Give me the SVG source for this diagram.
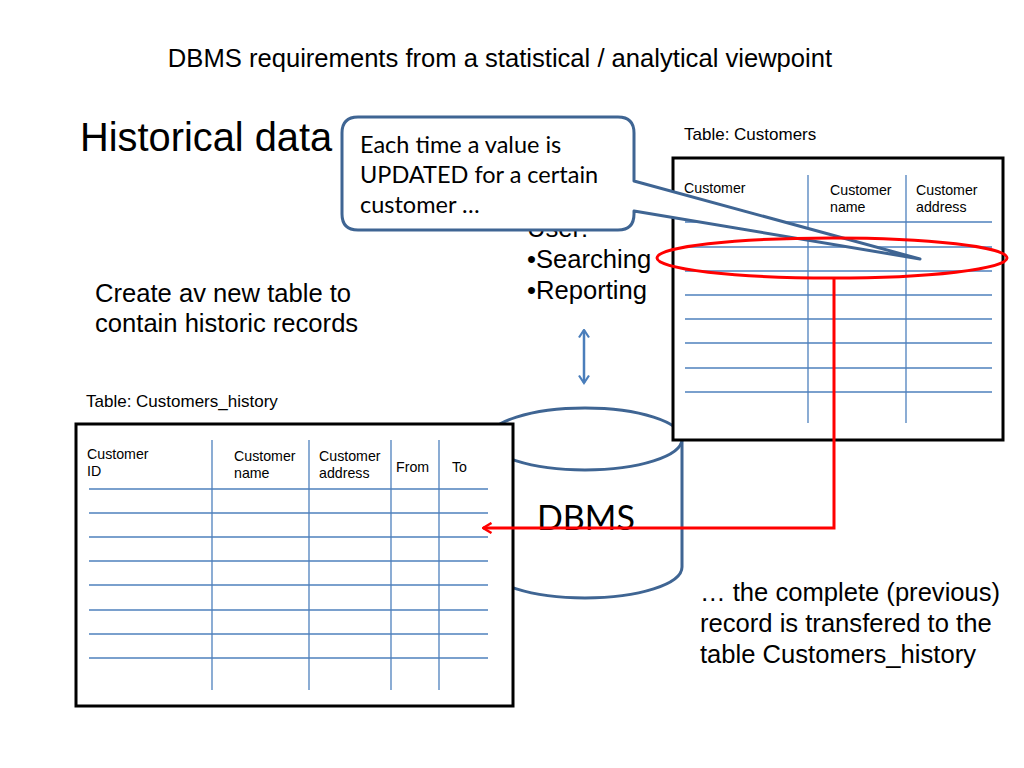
<svg xmlns="http://www.w3.org/2000/svg" width="1024" height="768" viewBox="0 0 1024 768">
<defs>
<style>
.t{font-family:"Liberation Sans",Arial,sans-serif;fill:#000}
.c{font-family:Lato,"Liberation Sans",sans-serif;fill:#000}
.big{font-size:25.6px}
.hdr{font-size:14.2px}
.lbl{font-size:17px}
.frame{fill:#fff;stroke:#000;stroke-width:3}
.grid{stroke:#4F81BD;stroke-width:1.3;fill:none}
.red{stroke:#FF0000;stroke-width:3;fill:none}
</style>
<marker id="redhead" viewBox="0 0 12 12" refX="10.5" refY="6" markerWidth="12" markerHeight="12" markerUnits="userSpaceOnUse" orient="auto-start-reverse">
<path d="M2,1 L10.5,6 L2,11" fill="none" stroke="#FF0000" stroke-width="2.5"/>
</marker>
<marker id="bluehead" viewBox="0 0 12 12" refX="10.5" refY="6" markerWidth="12" markerHeight="12" markerUnits="userSpaceOnUse" orient="auto-start-reverse">
<path d="M3,1 L10.5,6 L3,11" fill="none" stroke="#4A7EBB" stroke-width="2.2"/>
</marker>
</defs>
<rect width="1024" height="768" fill="#fff"/>

<text class="t big" x="500" y="67" text-anchor="middle">DBMS requirements from a statistical / analytical viewpoint</text>
<text class="t" x="80" y="151" font-size="39.8">Historical data</text>
<text class="t big" x="95" y="302">Create av new table to</text>
<text class="t big" x="95" y="332">contain historic records</text>
<text class="t big" x="700" y="601">… the complete (previous)</text>
<text class="t big" x="700" y="632">record is transfered to the</text>
<text class="t big" x="700" y="663">table Customers_history</text>

<g id="user-list">
<text class="t big" x="527" y="237">User:</text>
<text class="t big" x="527" y="268">•Searching</text>
<text class="t big" x="527" y="299">•Reporting</text>
</g>

<g id="dbms">
<path d="M488,439 V567 A97,31 0 0 0 682,567 V439" fill="#fff" stroke="#3F6593" stroke-width="3"/>
<ellipse cx="585" cy="439" rx="97" ry="31" fill="#fff" stroke="#3F6593" stroke-width="3"/>
<text class="c" x="537" y="530" font-size="34">DBMS</text>
</g>

<g id="customers-history">
<text class="t lbl" x="86" y="407">Table: Customers_history</text>
<rect class="frame" x="76" y="424" width="437" height="282"/>
<path class="grid" d="M212,440V690M309,440V690M391,440V690M439,440V690M89,489H488M89,513H488M89,537H488M89,561H488M89,585H488M89,610H488M89,634H488M89,658H488"/>
<text class="t hdr" x="87" y="459">Customer</text>
<text class="t hdr" x="87" y="476">ID</text>
<text class="t hdr" x="234" y="461">Customer</text>
<text class="t hdr" x="234" y="478">name</text>
<text class="t hdr" x="319" y="461">Customer</text>
<text class="t hdr" x="319" y="478">address</text>
<text class="t hdr" x="396" y="472">From</text>
<text class="t hdr" x="452" y="472">To</text>
</g>

<g id="customers">
<text class="t lbl" x="684" y="140">Table: Customers</text>
<rect class="frame" x="673" y="158" width="330" height="282"/>
<path class="grid" d="M808,175V423M906,175V423M685,222H992M685,247H992M685,271H992M685,295H992M685,319H992M685,343H992M685,368H992M685,392H992"/>
<text class="t hdr" x="684" y="193">Customer</text>
<text class="t hdr" x="830" y="195">Customer</text>
<text class="t hdr" x="830" y="212">name</text>
<text class="t hdr" x="916" y="195">Customer</text>
<text class="t hdr" x="916" y="212">address</text>
</g>

<g id="callout">
<path d="M358,117 H618 Q634,117 634,133 V181 L920,259 L634,211 V214 Q634,230 618,230 H358 Q342,230 342,214 V133 Q342,117 358,117 Z" fill="#fff" stroke="#3F6593" stroke-width="3" stroke-linejoin="round"/>
<text class="c" x="360" y="153" font-size="23.5">Each time a value is</text>
<text class="c" x="360" y="183" font-size="23.5">UPDATED for a certain</text>
<text class="c" x="360" y="213" font-size="23.5">customer …</text>
</g>

<g id="connectors">
<ellipse class="red" cx="832" cy="258" rx="175" ry="20"/>
<path class="red" d="M834,279 V528 H483" marker-end="url(#redhead)"/>
<line x1="584" y1="330" x2="584" y2="383" stroke="#4A7EBB" stroke-width="2.5" marker-start="url(#bluehead)" marker-end="url(#bluehead)"/>
</g>
</svg>
